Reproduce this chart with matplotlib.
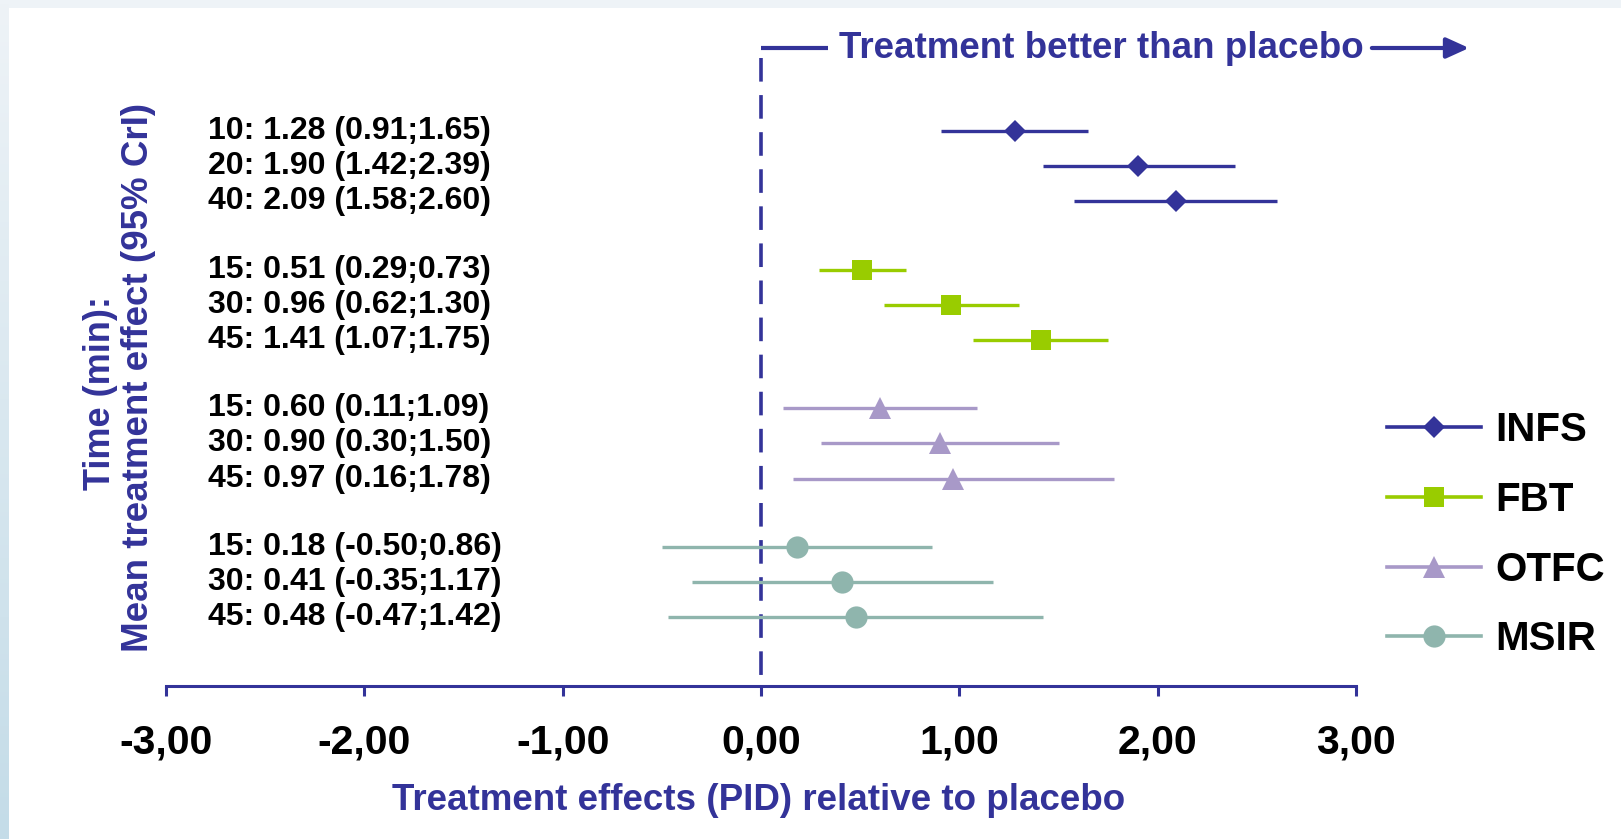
import numpy as np
import matplotlib
matplotlib.use("Agg")
import matplotlib.pyplot as plt
from matplotlib.lines import Line2D
from matplotlib.colors import LinearSegmentedColormap

plt.rcParams['font.family'] = ['Liberation Sans', 'DejaVu Sans']
plt.rcParams['lines.scale_dashes'] = False

# ---------------- data ----------------
treatments = ['INFS', 'FBT', 'OTFC', 'MSIR']
colors = ['#333399', '#99cc00', '#a899c8', '#8fb5ad']
markers = ['D', 's', '^', 'o']
marker_sizes = [11, 15, 16, 16]

times_infs = [10, 20, 40]
mean_infs = [1.28, 1.90, 2.09]
lo_infs = [0.91, 1.42, 1.58]
hi_infs = [1.65, 2.39, 2.60]

times_fbt = [15, 30, 45]
mean_fbt = [0.51, 0.96, 1.41]
lo_fbt = [0.29, 0.62, 1.07]
hi_fbt = [0.73, 1.30, 1.75]

times_otfc = [15, 30, 45]
mean_otfc = [0.60, 0.90, 0.97]
lo_otfc = [0.11, 0.30, 0.16]
hi_otfc = [1.09, 1.50, 1.78]

times_msir = [15, 30, 45]
mean_msir = [0.18, 0.41, 0.48]
lo_msir = [-0.50, -0.35, -0.47]
hi_msir = [0.86, 1.17, 1.42]

xticks = [-3, -2, -1, 0, 1, 2, 3]
xtick_labels = ['-3,00', '-2,00', '-1,00', '0,00', '1,00', '2,00', '3,00']

groups = [
    (times_infs, mean_infs, lo_infs, hi_infs),
    (times_fbt, mean_fbt, lo_fbt, hi_fbt),
    (times_otfc, mean_otfc, lo_otfc, hi_otfc),
    (times_msir, mean_msir, lo_msir, hi_msir),
]

W, H = 1621, 839
NAVY = '#333399'
fig = plt.figure(figsize=(W / 100, H / 100), dpi=100)
fig.patch.set_facecolor('white')

# background strips
top = fig.add_axes([0, 1 - 8 / H, 1, 8 / H])
top.axis('off')
top.add_patch(plt.Rectangle((0, 0), 1, 1, color='#eef3f7', transform=top.transAxes))
left = fig.add_axes([0, 0, 9 / W, 1])
cm = LinearSegmentedColormap.from_list('g', ['#eef3f7', '#c4dce8'])
left.imshow(np.linspace(0, 1, 200).reshape(-1, 1), aspect='auto', cmap=cm,
            extent=[0, 1, 0, 1], origin='upper')
left.axis('off')

# main axes: x -3..3 maps to px 166..1356, y in pixel-like layout units
ax_left, ax_right = 166, 1356
ax_top, ax_bot = 40, 686
ax = fig.add_axes([ax_left / W, 1 - ax_bot / H, (ax_right - ax_left) / W, (ax_bot - ax_top) / H])
ax.set_xlim(-3, 3)
ax.set_ylim(ax_bot, ax_top)
ax.patch.set_alpha(0)
for s in ['top', 'right', 'left']:
    ax.spines[s].set_visible(False)
ax.spines['bottom'].set_color(NAVY)
ax.spines['bottom'].set_linewidth(2.2)
ax.set_yticks([])
ax.set_xticks(xticks)
ax.set_xticklabels(xtick_labels, fontsize=29.5, fontweight='bold', color='black')
ax.tick_params(axis='x', direction='out', length=7, width=2.2, color=NAVY, pad=20)

# rows
row_step, group_gap, first_row = 35.2, 33, 131
for g, ((t, m, lo, hi), col, mk, ms) in enumerate(zip(groups, colors, markers, marker_sizes)):
    m = np.array(m); lo = np.array(lo); hi = np.array(hi)
    ys = first_row + g * (3 * row_step + group_gap) + np.arange(len(m)) * row_step
    ax.errorbar(m, ys, xerr=[m - lo, hi - m], fmt=mk, color=col, ecolor=col,
                elinewidth=2.4, markersize=ms, markeredgewidth=0, capsize=0, zorder=3)
    for yy, tt, mm, l, h in zip(ys, t, m, lo, hi):
        ax.text(-2.79, yy, f"{tt}: {mm:.2f} ({l:.2f};{h:.2f})", fontsize=23,
                fontweight='bold', color='black', ha='left', va='center')

# zero reference dashed line
ax.plot([0, 0], [58, ax_bot], color=NAVY, lw=2.6, dashes=(17, 9.7), clip_on=False, zorder=2)

# top annotation
ytop = 48
ax.plot([0, 0.338], [ytop, ytop], color=NAVY, lw=3, clip_on=False, solid_capstyle='butt')
ax.text(1.715, ytop, 'Treatment better than placebo', fontsize=26.5, fontweight='bold',
        color=NAVY, ha='center', va='center')
ax.annotate('', xy=(3.57, ytop), xytext=(3.08, ytop), annotation_clip=False,
            arrowprops=dict(arrowstyle='-|>,head_length=0.55,head_width=0.25', lw=3,
                            color=NAVY, mutation_scale=25, shrinkA=0, shrinkB=0))

# axis labels
fig.text(759 / W, 1 - 800 / H, 'Treatment effects (PID) relative to placebo', fontsize=26.5,
         fontweight='bold', color=NAVY, ha='center', va='center')
fig.text(101 / W, 1 - 393 / H, 'Time (min):', fontsize=26, fontweight='bold', color=NAVY,
         rotation=90, ha='center', va='center')
fig.text(139 / W, 1 - 377 / H, 'Mean treatment effect (95% CrI)', fontsize=26.5,
         fontweight='bold', color=NAVY, rotation=90, ha='center', va='center')

# legend
handles = [Line2D([], [], color=c, lw=2.6, marker=mk, markersize=ms, markeredgewidth=0)
           for c, mk, ms in zip(colors, markers, marker_sizes)]
ax.legend(handles, treatments, loc='upper left', bbox_to_anchor=(1387 / W, 1 - 411 / H),
          bbox_transform=fig.transFigure, frameon=False, numpoints=1,
          prop={'size': 29, 'weight': 'bold'}, handlelength=2.33, handletextpad=0.37,
          labelspacing=0.79, borderpad=0, borderaxespad=0)

fig.savefig('out.png', dpi=100, facecolor='white')
